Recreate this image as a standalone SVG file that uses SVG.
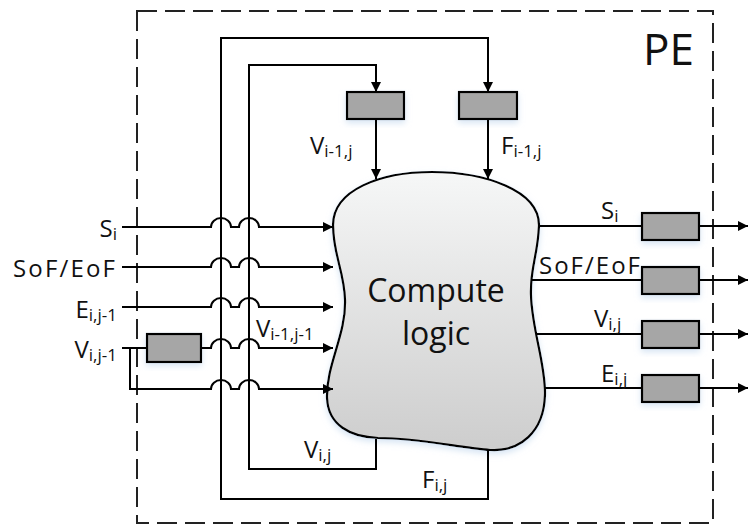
<svg xmlns="http://www.w3.org/2000/svg" width="749" height="525" viewBox="0 0 749 525">
<style>
.ln{fill:none;stroke:#000;stroke-width:2}
.arr{fill:none;stroke:#000;stroke-width:2;marker-end:url(#ah)}
.reg{fill:#a6a6a6;stroke:#000;stroke-width:2.2;filter:url(#glow)}
text{font-family:"Open Sans","Noto Sans","Liberation Sans",sans-serif;fill:#111;font-size:24px}
.sub{font-size:17px}
</style>
<defs>
<marker id="ah" markerUnits="userSpaceOnUse" markerWidth="11" markerHeight="10" refX="10" refY="5" orient="auto">
<path d="M0,0 L10,5 L0,10 Z" fill="#000"/>
</marker>
<linearGradient id="bg" x1="0" y1="0" x2="0" y2="1">
<stop offset="0" stop-color="#f6f7f7"/>
<stop offset="1" stop-color="#cdcdcd"/>
</linearGradient>
<filter id="glow" x="-20%" y="-20%" width="140%" height="150%">
<feGaussianBlur in="SourceAlpha" stdDeviation="3"/>
<feOffset dy="3" result="b"/>
<feFlood flood-color="#bcd3ec" flood-opacity="0.6"/>
<feComposite in2="b" operator="in"/>
<feMerge><feMergeNode/><feMergeNode in="SourceGraphic"/></feMerge>
</filter>
</defs>

<g id="pe-boundary">
<rect x="137" y="11" width="576" height="512" fill="none" stroke="#222" stroke-width="2" stroke-dasharray="20 8"/>
<text x="643" y="65" style="font-size:44px">PE</text>
</g>

<g id="compute-logic">
<path d="M333,225 C333,190 380,172 432,172 C484,172 540,190 539,226 C538,255 530,268 531,295 C532,330 546,365 545,395 C544,432 520,452 490,450 C460,448 420,438 378,438 C350,437 328,425 327,398 C326,365 346,335 345,300 C344,270 333,255 333,225 Z" fill="url(#bg)" stroke="#000" stroke-width="2.2" filter="url(#glow)"/>
<text x="436" y="302" text-anchor="middle" style="font-size:32px">Compute</text>
<text x="436" y="345" text-anchor="middle" style="font-size:32px">logic</text>
</g>

<g id="reg-vin"><rect class="reg" x="147" y="334" width="54" height="28"/></g>
<g id="reg-vtop"><rect class="reg" x="347" y="92" width="57" height="27"/></g>
<g id="reg-ftop"><rect class="reg" x="459" y="92" width="58" height="27"/></g>
<g id="reg-sout"><rect class="reg" x="642" y="213" width="57" height="27"/></g>
<g id="reg-sofout"><rect class="reg" x="642" y="267" width="57" height="27"/></g>
<g id="reg-vout"><rect class="reg" x="642" y="321" width="57" height="27"/></g>
<g id="reg-eout"><rect class="reg" x="642" y="375" width="57" height="27"/></g>

<g id="connectors">
<path class="arr" d="M122,227 H211 A10,9 0 0 1 231,227 H239 A10,9 0 0 1 259,227 H333"/>
<path class="arr" d="M122,267 H211 A10,9 0 0 1 231,267 H239 A10,9 0 0 1 259,267 H333"/>
<path class="arr" d="M122,307 H211 A10,9 0 0 1 231,307 H239 A10,9 0 0 1 259,307 H333"/>
<path class="ln" d="M122,348 H147"/>
<path class="arr" d="M201,348 H211 A10,9 0 0 1 231,348 H239 A10,9 0 0 1 259,348 H333"/>
<path class="arr" d="M130,348 V389 H211 A10,9 0 0 1 231,389 H239 A10,9 0 0 1 259,389 H333"/>
<path class="arr" d="M376,439 V469 H249 V65 H376 V92"/>
<path class="arr" d="M488,450 V499 H221 V38 H488 V92"/>
<path class="arr" d="M376,119 V179"/>
<path class="arr" d="M488,119 V179"/>
<path class="ln" d="M539,226 H642"/>
<path class="arr" d="M699,226 H748"/>
<path class="ln" d="M532,280 H642"/>
<path class="arr" d="M699,280 H748"/>
<path class="ln" d="M536,334 H642"/>
<path class="arr" d="M699,334 H748"/>
<path class="ln" d="M545,388 H642"/>
<path class="arr" d="M699,388 H748"/>
</g>

<g id="labels">
<text x="117" y="237" text-anchor="end">S<tspan class="sub" dy="3">i</tspan></text>
<text x="115" y="277" text-anchor="end" textLength="102" lengthAdjust="spacing">SoF/EoF</text>
<text x="117" y="318" text-anchor="end">E<tspan class="sub" dy="3">i,j-1</tspan></text>
<text x="117" y="358" text-anchor="end">V<tspan class="sub" dy="3">i,j-1</tspan></text>
<text x="310" y="154">V<tspan class="sub" dy="3">i-1,j</tspan></text>
<text x="501" y="154">F<tspan class="sub" dy="3">i-1,j</tspan></text>
<text x="256" y="337">V<tspan class="sub" dy="3">i-1,j-1</tspan></text>
<text x="304" y="458">V<tspan class="sub" dy="3">i,j</tspan></text>
<text x="422" y="488">F<tspan class="sub" dy="3">i,j</tspan></text>
<text x="601" y="219">S<tspan class="sub" dy="3">i</tspan></text>
<text x="539" y="274" textLength="101" lengthAdjust="spacing">SoF/EoF</text>
<text x="594" y="327">V<tspan class="sub" dy="3">i,j</tspan></text>
<text x="601" y="382">E<tspan class="sub" dy="3">i,j</tspan></text>
</g>
</svg>
